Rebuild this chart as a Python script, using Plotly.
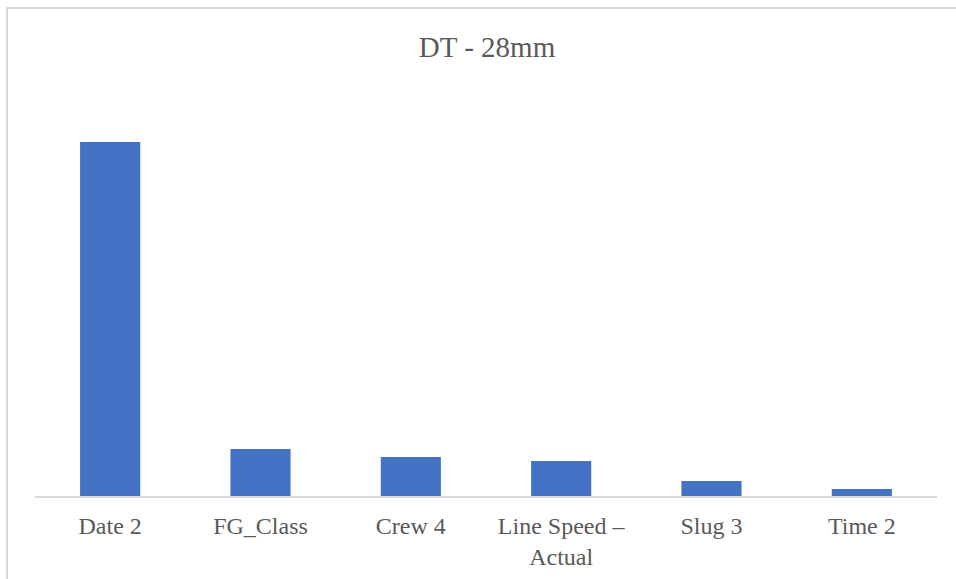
import plotly.graph_objects as go

categories = ["Date 2", "FG_Class", "Crew 4", "Line Speed –<br>Actual", "Slug 3", "Time 2"]
values = [0.710, 0.094, 0.078, 0.070, 0.030, 0.014]

W, H = 956, 579
L, R, T, B = 35, 19, 97, 83
pw, ph = W - L - R, H - T - B

SERIF = "Liberation Serif"

fig = go.Figure(go.Bar(x=categories, y=values, marker_color="#4472C4",
                       marker_line_width=0, width=0.4))

def px2x(p):
    return (p - L) / pw

def py2y(p):
    return (H - B - p) / ph

fig.update_layout(
    width=W, height=H,
    margin=dict(l=L, r=R, t=T, b=B, autoexpand=False),
    paper_bgcolor="white", plot_bgcolor="white",
    showlegend=False,
    font=dict(family=SERIF, color="#595959"),
    title=dict(text="DT - 28mm", x=487 / W, y=1 - 47 / H, xanchor="center", yanchor="middle",
               xref="container", yref="container",
               font=dict(family=SERIF, size=29, color="#595959")),
    xaxis=dict(showline=True, linecolor="#d9d9d9", linewidth=2, showgrid=False,
               ticks="outside", ticklen=7, tickcolor="rgba(0,0,0,0)", automargin=False,
               tickfont=dict(family=SERIF, size=24, color="#595959"),
               range=[-0.5, 5.5]),
    yaxis=dict(visible=False, range=[0, 0.8], automargin=False),
    shapes=[dict(type="rect", xref="paper", yref="paper",
                 x0=px2x(7), x1=px2x(970), y0=py2y(600), y1=py2y(8),
                 line=dict(color="#d9d9d9", width=2), fillcolor="rgba(0,0,0,0)", layer="below")],
)

fig.write_html("out.html")
